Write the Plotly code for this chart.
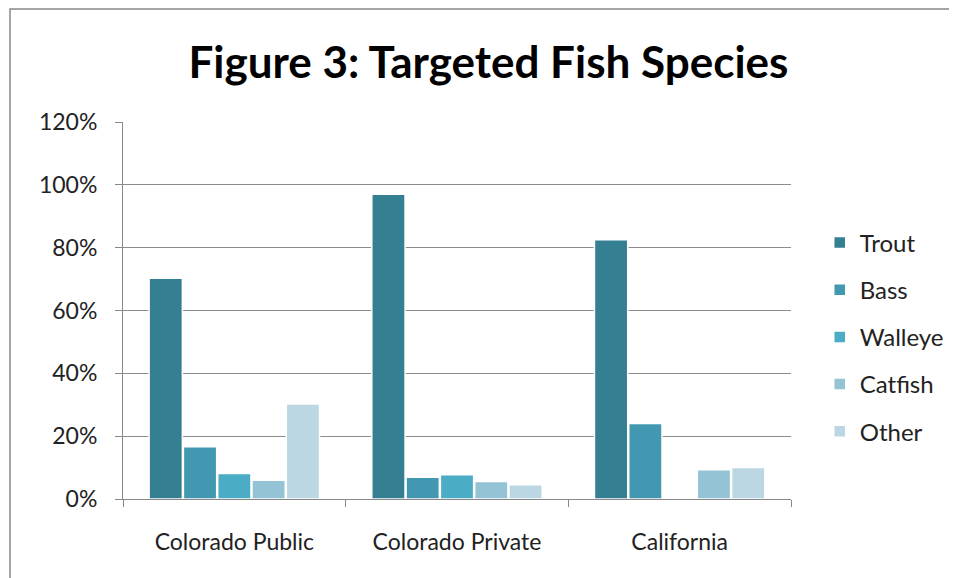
import plotly.graph_objects as go

categories = ["Colorado Public", "Colorado Private", "California"]
species = ["Trout", "Bass", "Walleye", "Catfish", "Other"]
trout = [0.703, 0.97, 0.825]
bass = [0.166, 0.069, 0.240]
walleye = [0.081, 0.077, 0.004]
catfish = [0.060, 0.056, 0.093]
other = [0.302, 0.045, 0.100]
series = [trout, bass, walleye, catfish, other]
colors = ["#357F93", "#4298B0", "#4BACC6", "#93C3D5", "#BAD7E3"]
y_ticks = [0, 0.2, 0.4, 0.6, 0.8, 1.0, 1.2]

fig = go.Figure()
for i, (name, vals) in enumerate(zip(species, series)):
    fig.add_trace(go.Bar(
        x=categories, y=vals, name=name, legendgroup=name,
        marker=dict(color=colors[i], line=dict(color="white", width=1.5)),
    ))

fig.update_layout(
    width=957, height=578,
    paper_bgcolor="white", plot_bgcolor="white",
    margin=dict(l=115, r=174, t=114, b=87),
    barmode="group", bargap=0.23, bargroupgap=0.03,
    font=dict(family="Lato", size=23, color="#222222"),
    title=dict(text="<b>Figure 3: Targeted Fish Species</b>", x=0.502, xanchor="center",
               y=1 - 55 / 578, yanchor="middle",
               font=dict(family="Lato", size=44, color="black")),
    legend=dict(x=1.043, xref="paper", xanchor="left", y=0.43, yanchor="middle",
                font=dict(size=24, color="#222222"), tracegroupgap=13,
                bgcolor="rgba(0,0,0,0)", itemclick=False),
    showlegend=True,
)
fig.update_xaxes(showline=True, linecolor="#888888", linewidth=1,
                 ticks="outside", tickson="boundaries", ticklen=7, tickcolor="#888888",
                 showgrid=False, tickfont=dict(size=23), ticklabelstandoff=22)
fig.update_yaxes(range=[0, 1.2], tickvals=y_ticks, tickformat=".0%",
                 showline=True, linecolor="#888888", linewidth=1,
                 ticks="outside", ticklen=7, tickcolor="#888888",
                 showgrid=True, gridcolor="#8C8C8C", gridwidth=1, zeroline=False,
                 tickfont=dict(size=23), ticklabelstandoff=13)
fig.add_shape(type="rect", xref="paper", yref="paper",
              x0=-113 / 668, x1=1.5, y0=-0.5, y1=1 + 113 / 377,
              line=dict(color="#888888", width=1.5), fillcolor="rgba(0,0,0,0)", layer="below")

fig.write_html("out.html")
